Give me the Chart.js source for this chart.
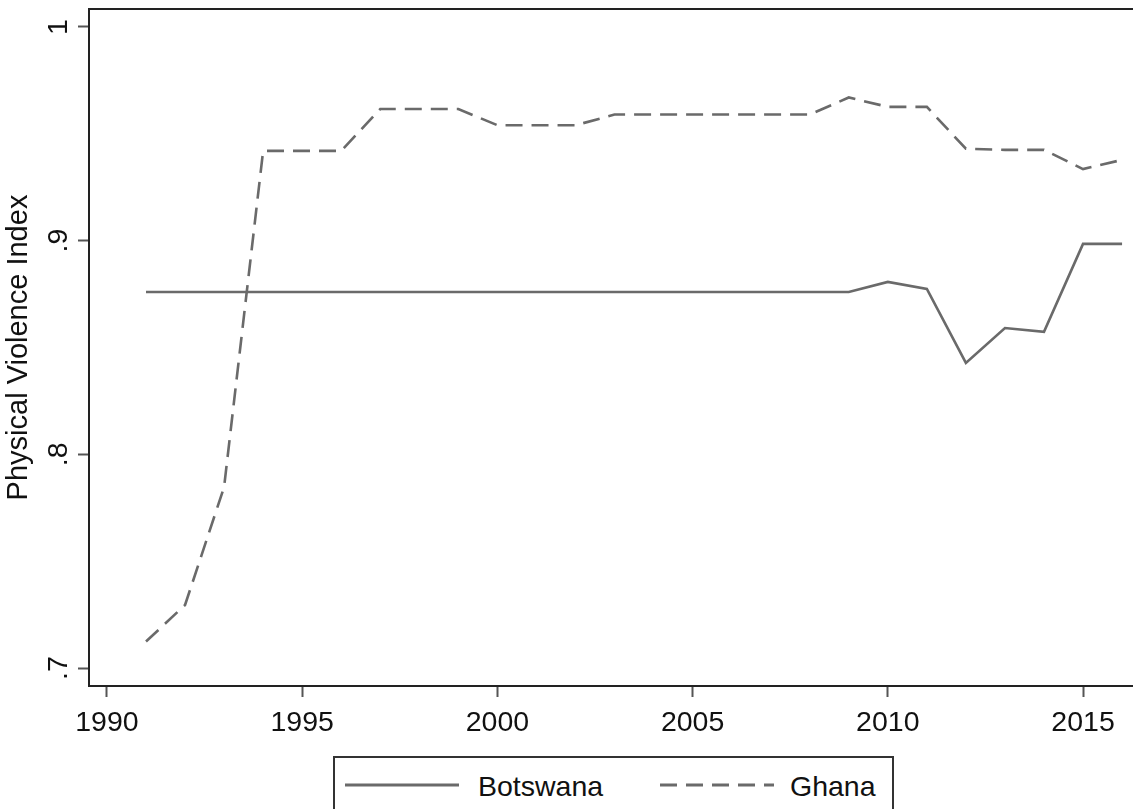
<!DOCTYPE html>
<html>
<head>
<meta charset="utf-8">
<script src="https://cdn.jsdelivr.net/npm/chart.js@4/dist/chart.umd.min.js"></script>
<style>
  html, body { margin: 0; padding: 0; background: #fff; }
  #wrap { position: relative; width: 1133px; height: 809px; overflow: hidden; }
  #legend {
    position: absolute; left: 333px; top: 756px; width: 561px; height: 80px;
    border: 2px solid #333; box-sizing: border-box; background: #fff;
    font-family: "Liberation Sans", Arial, sans-serif; font-size: 28.5px; color: #111;
  }
  #legend .item { position: absolute; top: 8px; height: 40px; line-height: 40px; }
  #legend svg { position: absolute; top: 0; left: 0; }
  #legend span { position: absolute; top: 0; white-space: nowrap; }
</style>
</head>
<body>
<div id="wrap">
  <canvas id="chart" width="1133" height="809"></canvas>
  <div id="legend"></div>
</div>
<script>
var years = [1991, 1992, 1993, 1994, 1995, 1996, 1997, 1998, 1999, 2000, 2001, 2002, 2003,
             2004, 2005, 2006, 2007, 2008, 2009, 2010, 2011, 2012, 2013, 2014, 2015, 2016];
var botswana = [0.876, 0.876, 0.876, 0.876, 0.876, 0.876, 0.876, 0.876, 0.876, 0.876, 0.876, 0.876, 0.876,
                0.876, 0.876, 0.876, 0.876, 0.876, 0.876, 0.8807, 0.8774, 0.8428, 0.8591, 0.8573, 0.8985, 0.8985];
var ghana = [0.7124, 0.7295, 0.7847, 0.942, 0.942, 0.942, 0.9616, 0.9616, 0.9616, 0.954, 0.954, 0.954, 0.959,
             0.959, 0.959, 0.959, 0.959, 0.959, 0.967, 0.9626, 0.9626, 0.943, 0.9425, 0.9425, 0.9335, 0.9378];
var xTicks = [1990, 1995, 2000, 2005, 2010, 2015];
var yTicks = [0.7, 0.8, 0.9, 1];
var seriesNames = ["Botswana", "Ghana"];

var FONT = '"Liberation Sans", Arial, sans-serif';
var lineGray = "#6a6a6a";
var axisColor = "#222222";

// y tick labels are drawn turned 90 degrees, like in Stata
function yLabel(v) {
    if (v === 1) return "1";
    return String(v).replace(/^0/, "");
}

var rotatedYTicks = {
    id: "rotatedYTicks",
    afterDraw: function (chart) {
        var ctx = chart.ctx;
        var y = chart.scales.y;
        ctx.save();
        ctx.font = "28.5px " + FONT;
        ctx.fillStyle = "#111";
        ctx.textAlign = "center";
        ctx.textBaseline = "middle";
        y.ticks.forEach(function (t) {
            var py = y.getPixelForValue(t.value);
            ctx.save();
            ctx.translate(y.right - 30, py);
            ctx.rotate(-Math.PI / 2);
            ctx.fillText(yLabel(t.value), 0, 0);
            ctx.restore();
        });
        // top frame line
        ctx.strokeStyle = axisColor;
        ctx.lineWidth = 2;
        ctx.beginPath();
        ctx.moveTo(chart.chartArea.left - 1, chart.chartArea.top);
        ctx.lineTo(chart.width, chart.chartArea.top);
        ctx.stroke();
        ctx.restore();
    }
};

var chart = new Chart(document.getElementById("chart").getContext("2d"), {
    type: "line",
    data: {
        labels: years,
        datasets: [
            {
                label: seriesNames[0],
                data: botswana,
                borderColor: lineGray,
                borderWidth: 2.6,
                pointRadius: 0,
                tension: 0,
                fill: false
            },
            {
                label: seriesNames[1],
                data: ghana,
                borderColor: lineGray,
                borderWidth: 2.6,
                borderDash: [17, 9],
                pointRadius: 0,
                tension: 0,
                fill: false
            }
        ]
    },
    options: {
        responsive: false,
        animation: false,
        layout: { padding: { top: 9, right: 0, bottom: 0, left: 0 } },
        plugins: {
            legend: { display: false },
            tooltip: { enabled: false }
        },
        scales: {
            x: {
                type: "linear",
                min: 1989.54,
                max: 2016.28,
                afterBuildTicks: function (s) { s.ticks = xTicks.map(function (v) { return { value: v }; }); },
                afterFit: function (s) { s.height = 123; },
                grid: { drawOnChartArea: false, drawTicks: true, tickLength: 11, tickColor: "#555", tickWidth: 2 },
                border: { color: axisColor, width: 2 },
                ticks: {
                    color: "#111",
                    font: { family: FONT, size: 28.5 },
                    padding: 9,
                    maxRotation: 0,
                    callback: function (v) { return String(v); }
                }
            },
            y: {
                min: 0.6916,
                max: 1.0084,
                afterBuildTicks: function (s) { s.ticks = yTicks.map(function (v) { return { value: v }; }); },
                afterFit: function (s) { s.width = 89; },
                grid: { drawOnChartArea: false, drawTicks: true, tickLength: 11, tickColor: "#555", tickWidth: 2 },
                border: { color: axisColor, width: 2 },
                ticks: { display: false },
                title: {
                    display: true,
                    text: "Physical Violence Index",
                    color: "#111",
                    font: { family: FONT, size: 29, lineHeight: 1 },
                    padding: { top: 4, bottom: 0 }
                }
            }
        }
    },
    plugins: [rotatedYTicks]
});

// legend box below the plot, built from the datasets
(function buildLegend() {
    var box = document.getElementById("legend");
    var slots = [{ line: 10, text: 143 }, { line: 325, text: 455 }];
    chart.data.datasets.forEach(function (ds, i) {
        var item = document.createElement("div");
        item.className = "item";
        item.style.left = "0px";
        var dash = ds.borderDash ? ds.borderDash.join(" ") : "none";
        item.innerHTML =
            '<svg width="130" height="40" style="left:' + slots[i].line + 'px">' +
            '<line x1="0" y1="19" x2="114" y2="19" stroke="' + ds.borderColor + '" stroke-width="3"' +
            (ds.borderDash ? ' stroke-dasharray="' + dash + '"' : '') + '/></svg>' +
            '<span style="left:' + slots[i].text + 'px">' + ds.label + '</span>';
        box.appendChild(item);
    });
})();
</script>
</body>
</html>
